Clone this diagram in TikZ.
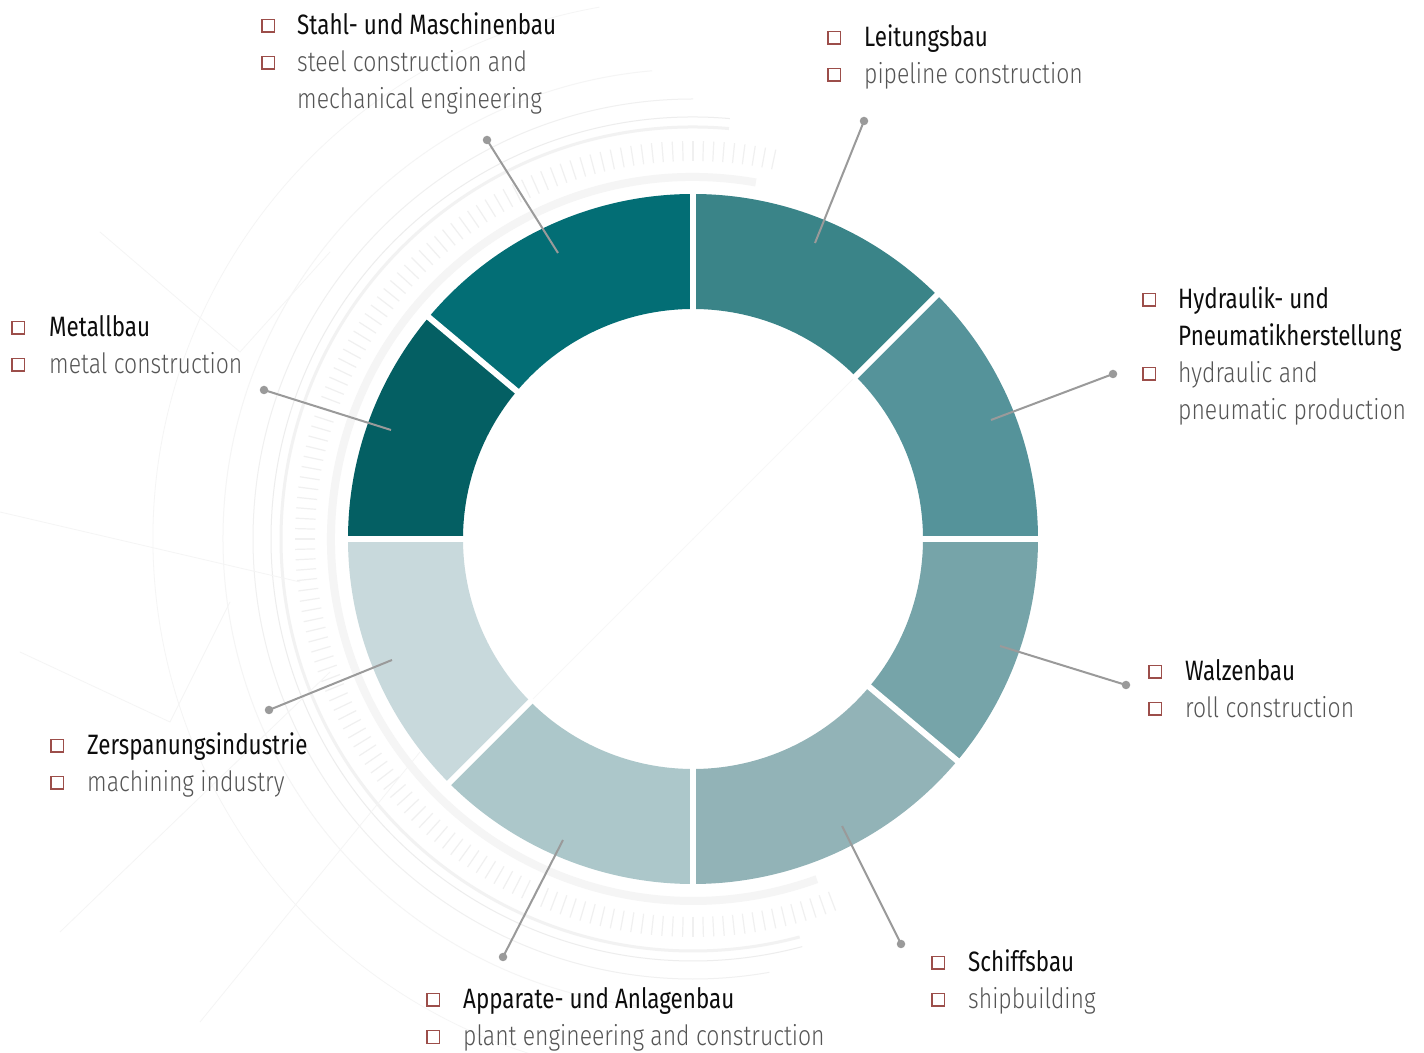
\documentclass[tikz,border=0pt]{standalone}
\usepackage{fontspec}
\newfontfamily\defont{Fira Sans}[FakeStretch=0.8]
\newfontfamily\enfont{Fira Sans}[UprightFont=* Light, FakeStretch=0.82]
\usetikzlibrary{calc}
\definecolor{cHyd}{HTML}{55939A}
\definecolor{cLei}{HTML}{3A8488}
\definecolor{cSta}{HTML}{036E75}
\definecolor{cMet}{HTML}{045F63}
\definecolor{cZer}{HTML}{C8D9DC}
\definecolor{cApp}{HTML}{ACC7CA}
\definecolor{cSch}{HTML}{92B3B7}
\definecolor{cWal}{HTML}{76A4A9}
\definecolor{boxred}{HTML}{9C4E4A}
\definecolor{engray}{HTML}{555555}
\definecolor{leadgray}{HTML}{9A9A9A}
\tikzset{
  de/.style={anchor=base west, inner sep=0pt, font=\defont\fontsize{28}{34}\selectfont, text=black!95},
  en/.style={anchor=base west, inner sep=0pt, font=\enfont\fontsize{28}{34}\selectfont, text=engray},
  cbox/.style={draw=boxred, line width=1.5pt, minimum size=12.5pt, inner sep=0pt},
  dotnode/.style={circle, fill=leadgray, minimum size=8.5pt, inner sep=0pt},
  leader/.style={draw=leadgray, line width=2pt},
  gapline/.style={draw=white, line width=6pt},
  bgarc/.style={draw=black!6},
}
\newcommand{\ringsector}[3]{%
  \fill[#3] ($(C)+(#1:345)$) arc[start angle=#1, end angle=#2, radius=345]
    -- ($(C)+(#2:230)$) arc[start angle=#2, end angle=#1, radius=230] -- cycle;}
\newcommand{\bgarcdraw}[4]{%
  \draw[bgarc, #4] ($(C)+(#1:#3)$) arc[start angle=#1, end angle=#2, radius=#3];}
\begin{document}
\begin{tikzpicture}[x=1pt,y=1pt]
\useasboundingbox (0,0) rectangle (1424,1052);
\fill[white] (0,0) rectangle (1424,1052);
\coordinate (C) at (693,513);
% faint background pattern
\begin{scope}
\clip (0,0) rectangle (1424,1052);
\bgarcdraw{80}{290}{362}{line width=8pt, draw=black!4}
\bgarcdraw{85}{285}{412}{line width=3pt, draw=black!5}
\bgarcdraw{85}{285}{422}{line width=1pt, draw=black!7}
\bgarcdraw{90}{280}{440}{line width=1pt, draw=black!6}
\bgarcdraw{95}{270}{470}{line width=1pt, draw=black!4}
\bgarcdraw{100}{260}{540}{line width=0.8pt, draw=black!4}
\foreach \a in {78,79.5,...,292}{
  \draw[black!6, line width=1.2pt] ($(C)+(\a:378)$) -- ($(C)+(\a:398)$);
}
\draw[black!4, line width=0.8pt] (0,540) -- (300,470);
\draw[black!4, line width=0.8pt] (60,120) -- (330,380);
\draw[black!4, line width=0.8pt] (200,30) -- (420,300);
\draw[black!4, line width=0.8pt] (100,820) -- (240,700) -- (330,800);
\draw[black!4, line width=0.8pt] (20,400) -- (170,330) -- (230,450);
\draw[black!3, line width=0.8pt] (C) -- ++(45:230);
\draw[black!3, line width=0.8pt] (C) -- ++(225:230);
\end{scope}
% ring
\ringsector{0}{45}{cHyd}
\ringsector{45}{90}{cLei}
\ringsector{90}{140}{cSta}
\ringsector{140}{180}{cMet}
\ringsector{180}{225}{cZer}
\ringsector{225}{270}{cApp}
\ringsector{270}{320}{cSch}
\ringsector{320}{360}{cWal}
\foreach \a in {0,45,90,140,180,225,270,320}{
  \draw[gapline] ($(C)+(\a:226)$) -- ($(C)+(\a:349)$);
}
% leaders
\coordinate (sSta) at (558,799); \node[dotnode] (dSta) at (487,912) {};
\coordinate (sLei) at (815,809); \node[dotnode] (dLei) at (864,931) {};
\coordinate (sHyd) at (991,632); \node[dotnode] (dHyd) at (1113,678) {};
\coordinate (sWal) at (1000,406); \node[dotnode] (dWal) at (1126,367) {};
\coordinate (sSch) at (842,226); \node[dotnode] (dSch) at (901,108) {};
\coordinate (sApp) at (563,212); \node[dotnode] (dApp) at (503,95) {};
\coordinate (sZer) at (392,392); \node[dotnode] (dZer) at (269,342) {};
\coordinate (sMet) at (391,622); \node[dotnode] (dMet) at (264,662) {};
\foreach \n in {Sta,Lei,Hyd,Wal,Sch,App,Zer,Met}{
  \draw[leader] (s\n) -- (d\n.center);
}
% labels: Stahl
\node[cbox] (bSta1) at (268,1026) {};
\node[de] (tSta1) at (297,1017) {Stahl- und Maschinenbau};
\node[cbox] (bSta2) at (268,989) {};
\node[en] (tSta2) at (297,980) {steel construction and};
\node[en] (tSta3) at (297,943) {mechanical engineering};
% Leitung
\node[cbox] (bLei1) at (834,1014) {};
\node[de] (tLei1) at (864,1005) {Leitungsbau};
\node[cbox] (bLei2) at (834,977) {};
\node[en] (tLei2) at (864,968) {pipeline construction};
% Hydraulik
\node[cbox] (bHyd1) at (1149,752) {};
\node[de] (tHyd1) at (1178,743) {Hydraulik- und};
\node[de] (tHyd2) at (1178,706) {Pneumatikherstellung};
\node[cbox] (bHyd2) at (1149,678) {};
\node[en] (tHyd3) at (1178,669) {hydraulic and};
\node[en] (tHyd4) at (1178,632) {pneumatic production};
% Metallbau
\node[cbox] (bMet1) at (18,724) {};
\node[de] (tMet1) at (49,715) {Metallbau};
\node[cbox] (bMet2) at (18,687) {};
\node[en] (tMet2) at (49,678) {metal construction};
% Walzenbau
\node[cbox] (bWal1) at (1155,380) {};
\node[de] (tWal1) at (1185,371) {Walzenbau};
\node[cbox] (bWal2) at (1155,343) {};
\node[en] (tWal2) at (1185,334) {roll construction};
% Zerspanung
\node[cbox] (bZer1) at (57,306) {};
\node[de] (tZer1) at (87,297) {Zerspanungsindustrie};
\node[cbox] (bZer2) at (57,269) {};
\node[en] (tZer2) at (87,260) {machining industry};
% Apparate
\node[cbox] (bApp1) at (433,52) {};
\node[de] (tApp1) at (463,43) {Apparate- und Anlagenbau};
\node[cbox] (bApp2) at (433,15) {};
\node[en] (tApp2) at (463,6) {plant engineering and construction};
% Schiffsbau
\node[cbox] (bSch1) at (938,89) {};
\node[de] (tSch1) at (968,80) {Schiffsbau};
\node[cbox] (bSch2) at (938,52) {};
\node[en] (tSch2) at (968,43) {shipbuilding};
\end{tikzpicture}
\end{document}
